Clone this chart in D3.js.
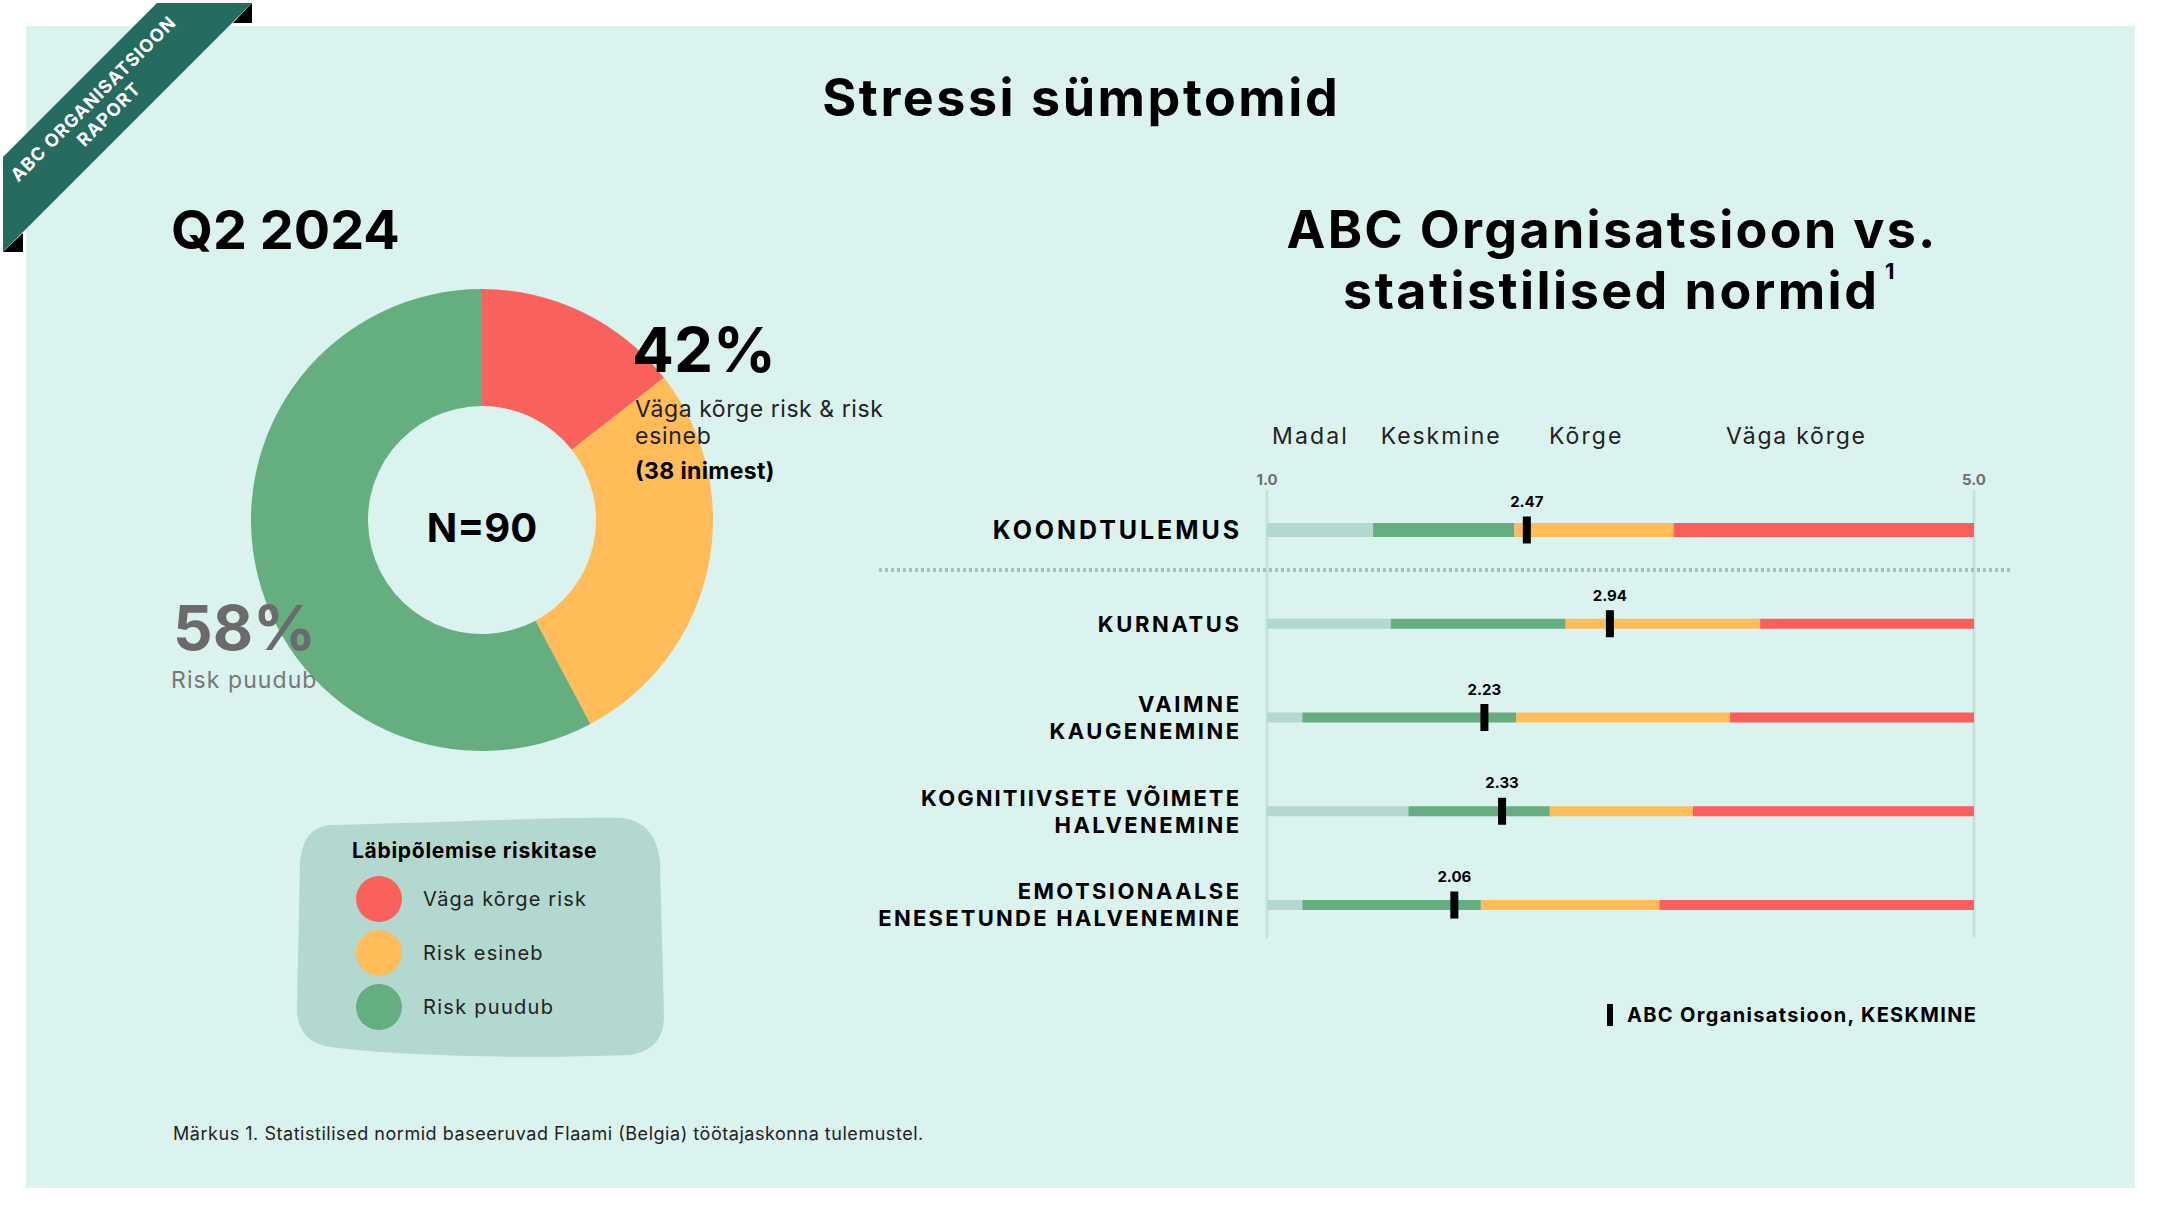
<!DOCTYPE html>
<html>
<head>
<meta charset="utf-8">
<script src="https://cdn.jsdelivr.net/npm/d3@7"></script>
<style>
  html, body { margin: 0; padding: 0; background: #ffffff; }
  svg { display: block; font-family: Inter, "Open Sans", sans-serif; }
</style>
</head>
<body>
<svg id="chart"></svg>
<script>
//define data
const riskLevels = ['Väga kõrge risk', 'Risk esineb', 'Risk puudub'];
const riskCounts = [13, 25, 52];
const riskColors = ['#F9615C', '#FFBC58', '#64AE80'];

const symptomLabels = [
	['KOONDTULEMUS'],
	['KURNATUS'],
	['VAIMNE', 'KAUGENEMINE'],
	['KOGNITIIVSETE VÕIMETE', 'HALVENEMINE'],
	['EMOTSIONAALSE', 'ENESETUNDE HALVENEMINE']
];
const orgMeans = [2.47, 2.94, 2.23, 2.33, 2.06];
//norm cut points: madal|keskmine, keskmine|kõrge, kõrge|väga kõrge
const normCuts = [
	[1.60, 2.40, 3.30],
	[1.70, 2.69, 3.79],
	[1.20, 2.41, 3.62],
	[1.80, 2.60, 3.41],
	[1.20, 2.21, 3.22]
];
const normLevels = ['Madal', 'Keskmine', 'Kõrge', 'Väga kõrge'];
const normColors = ['#B3D8CF', '#64AE80', '#FFBC58', '#FD5D5B'];
const scaleTicks = [1.0, 5.0];

//define constants
const svgWidth = 2160;
const svgHeight = 1215;
const headerAt = [1.24, 1.98, 2.80, 3.99];

var svg = d3.select('#chart')
	.attr('width', svgWidth)
	.attr('height', svgHeight);

//stretch text a little, the original face runs wider than Inter
function widen(sel, factor) {
	sel.each(function() {
		let len = this.getComputedTextLength();
		d3.select(this)
			.attr('textLength', len * factor)
			.attr('lengthAdjust', 'spacing');
	});
	return sel;
}

//panel
svg.append('rect')
	.attr('x', 26).attr('y', 26)
	.attr('width', 2109).attr('height', 1162)
	.attr('fill', '#DAF3EF');

//corner ribbon
svg.append('path')
	.attr('d', 'M233,23 L252,3 L252,23 Z M3,252 L23,233 L23,252 Z')
	.attr('fill', '#000');
svg.append('path')
	.attr('d', 'M157,3 L252,3 L3,252 L3,157 Z')
	.attr('fill', '#256B5F');
var ribbon = svg.append('g')
	.attr('transform', 'translate(101,107) rotate(-45)')
	.attr('fill', '#fff')
	.attr('font-weight', 700)
	.attr('font-size', 18)
	.attr('text-anchor', 'middle');
widen(ribbon.append('text').attr('y', -5).text('ABC ORGANISATSIOON'), 1.08);
widen(ribbon.append('text').attr('y', 17).text('RAPORT'), 1.08);

//titles
widen(svg.append('text')
	.text('Stressi sümptomid')
	.attr('x', 1080).attr('y', 116)
	.attr('text-anchor', 'middle')
	.attr('font-size', 52).attr('font-weight', 700), 1.085);
svg.append('text')
	.text('Q2 2024')
	.attr('x', 171).attr('y', 249)
	.attr('font-size', 54).attr('font-weight', 700);
widen(svg.append('text')
	.text('ABC Organisatsioon vs.')
	.attr('x', 1611).attr('y', 248)
	.attr('text-anchor', 'middle')
	.attr('font-size', 52).attr('font-weight', 700), 1.08);
var subTitle = widen(svg.append('text')
	.text('statistilised normid')
	.attr('x', 1610).attr('y', 309)
	.attr('text-anchor', 'middle')
	.attr('font-size', 52).attr('font-weight', 700), 1.095);
var subEnd = 1610 + (+subTitle.attr('textLength')) / 2;
svg.append('text')
	.text('1')
	.attr('x', subEnd + 8).attr('y', 279)
	.attr('font-size', 22).attr('font-weight', 700);

//donut
var pie = d3.pie().sort(null).value(d => d);
var arc = d3.arc().innerRadius(114).outerRadius(231);
var donut = svg.append('g')
	.attr('transform', 'translate(482,520)');
donut.selectAll('path')
	.data(pie(riskCounts))
	.enter()
	.append('path')
		.attr('d', arc)
		.attr('fill', (d, i) => riskColors[i]);

var total = d3.sum(riskCounts);
var atRisk = riskCounts[0] + riskCounts[1];
donut.append('text')
	.text(`N=${total}`)
	.attr('y', 22)
	.attr('text-anchor', 'middle')
	.attr('font-size', 40).attr('font-weight', 700);

svg.append('text')
	.text(`${Math.round(atRisk / total * 100)}%`)
	.attr('x', 632).attr('y', 372)
	.attr('font-size', 62).attr('font-weight', 700);
widen(svg.append('text')
	.text('Väga kõrge risk & risk')
	.attr('x', 635).attr('y', 417)
	.attr('font-size', 23).attr('fill', '#222'), 1.05);
widen(svg.append('text')
	.text('esineb')
	.attr('x', 635).attr('y', 444)
	.attr('font-size', 23).attr('fill', '#222'), 1.05);
widen(svg.append('text')
	.text(`(${atRisk} inimest)`)
	.attr('x', 635).attr('y', 479)
	.attr('font-size', 23).attr('font-weight', 700), 1.03);

svg.append('text')
	.text(`${Math.round(riskCounts[2] / total * 100)}%`)
	.attr('x', 173).attr('y', 650)
	.attr('font-size', 62).attr('font-weight', 700)
	.attr('fill', '#6B6B6B');
widen(svg.append('text')
	.text(riskLevels[2])
	.attr('x', 171).attr('y', 688)
	.attr('font-size', 23).attr('fill', '#777'), 1.08);

//legend blob
svg.append('path')
	.attr('d', 'M330,825 C450,822 560,817 622,818 Q656,822 660,862 L664,1018 Q663,1050 630,1055 C520,1059 400,1056 330,1047 Q298,1042 297,1010 L300,862 Q303,827 330,825 Z')
	.attr('fill', '#B3D8CF');
widen(svg.append('text')
	.text('Läbipõlemise riskitase')
	.attr('x', 352).attr('y', 858)
	.attr('font-size', 21).attr('font-weight', 700), 1.065);
var legendItems = svg.selectAll('.legend-item')
	.data(riskLevels)
	.enter()
	.append('g')
		.classed('legend-item', true)
		.attr('transform', (d, i) => `translate(379, ${899 + i * 54})`);
legendItems.append('circle')
	.attr('r', 23)
	.attr('fill', (d, i) => riskColors[i]);
widen(legendItems.append('text')
	.text(d => d)
	.attr('x', 44).attr('y', 7)
	.attr('font-size', 20).attr('fill', '#222'), 1.11);

//norm scales
var xScale = d3.scaleLinear()
	.domain([1, 5])
	.range([1267, 1974]);
var yScale = d3.scalePoint()
	.domain(d3.range(symptomLabels.length))
	.range([530, 905]);

//level headers
widen(svg.selectAll('.level')
	.data(normLevels)
	.enter()
	.append('text')
		.classed('level', true)
		.text(d => d)
		.attr('x', (d, i) => xScale(headerAt[i]))
		.attr('y', 444)
		.attr('text-anchor', 'middle')
		.attr('font-size', 23).attr('fill', '#222'), 1.13);

//tick lines and labels
svg.selectAll('.tick-line')
	.data(scaleTicks)
	.enter()
	.append('line')
		.classed('tick-line', true)
		.attr('x1', d => xScale(d)).attr('x2', d => xScale(d))
		.attr('y1', 490).attr('y2', 938)
		.attr('stroke', '#C4E3DC').attr('stroke-width', 3);
svg.selectAll('.tick-label')
	.data(scaleTicks)
	.enter()
	.append('text')
		.classed('tick-label', true)
		.text(d => d.toFixed(1))
		.attr('x', d => xScale(d))
		.attr('y', 485)
		.attr('text-anchor', 'middle')
		.attr('font-size', 15).attr('font-weight', 700)
		.attr('fill', '#6F6F6F');

//separator
svg.append('line')
	.attr('x1', 879).attr('x2', 2012)
	.attr('y1', 570).attr('y2', 570)
	.attr('stroke', '#A9BFBA').attr('stroke-width', 4)
	.attr('stroke-dasharray', '3,3');

//rows
var rows = svg.selectAll('.row')
	.data(symptomLabels)
	.enter()
	.append('g')
		.classed('row', true)
		.attr('transform', (d, i) => `translate(0, ${yScale(i)})`);

rows.each(function(d, i) {
	let g = d3.select(this);
	let stops = [1].concat(normCuts[i], [5]);
	let h = i === 0 ? 14 : 10;
	g.selectAll('rect.seg')
		.data(d3.range(4))
		.enter()
		.append('rect')
			.classed('seg', true)
			.attr('x', k => xScale(stops[k]))
			.attr('width', k => xScale(stops[k + 1]) - xScale(stops[k]))
			.attr('y', -h / 2)
			.attr('height', h)
			.attr('fill', k => normColors[k]);
	//label lines
	let fs = i === 0 ? 25 : 22;
	widen(g.selectAll('text.label')
		.data(d)
		.enter()
		.append('text')
			.classed('label', true)
			.text(t => t)
			.attr('x', 1239)
			.attr('y', (t, k) => fs * 0.36 - (d.length - 1) * 13.5 + k * 27)
			.attr('text-anchor', 'end')
			.attr('font-size', fs).attr('font-weight', 700), 1.15);
	//marker
	g.append('rect')
		.attr('x', xScale(orgMeans[i]) - 4)
		.attr('width', 8)
		.attr('y', -13.5)
		.attr('height', 27)
		.attr('fill', '#000');
	g.append('text')
		.text(orgMeans[i].toFixed(2))
		.attr('x', xScale(orgMeans[i]))
		.attr('y', -23)
		.attr('text-anchor', 'middle')
		.attr('font-size', 15).attr('font-weight', 700);
});

//marker legend
svg.append('rect')
	.attr('x', 1607).attr('y', 1004)
	.attr('width', 6).attr('height', 22)
	.attr('fill', '#000');
widen(svg.append('text')
	.text('ABC Organisatsioon, KESKMINE')
	.attr('x', 1627).attr('y', 1022)
	.attr('font-size', 20).attr('font-weight', 700), 1.115);

//footnote
widen(svg.append('text')
	.text('Märkus 1. Statistilised normid baseeruvad Flaami (Belgia) töötajaskonna tulemustel.')
	.attr('x', 173).attr('y', 1140)
	.attr('font-size', 18).attr('fill', '#222'), 1.062);
</script>
</body>
</html>
